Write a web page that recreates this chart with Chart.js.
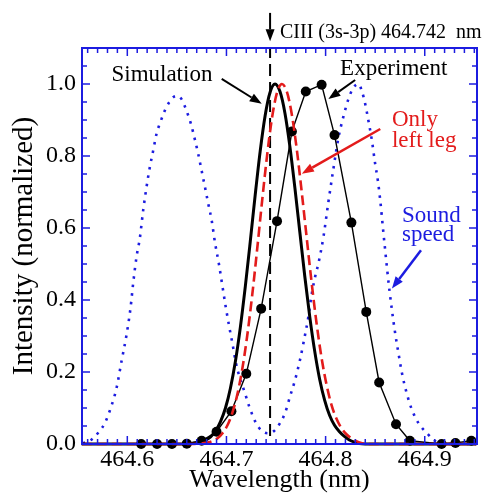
<!DOCTYPE html>
<html>
<head>
<meta charset="utf-8">
<title>CIII 464.742 nm line profile</title>
<script src="https://cdn.jsdelivr.net/npm/chart.js@4.4.1/dist/chart.umd.min.js"></script>
<style>
  html, body { margin: 0; padding: 0; background: #fff; }
  #box { width: 489px; height: 496px; }
</style>
</head>
<body>
<div id="box"><canvas id="profile" width="489" height="496"></canvas></div>
<script>
// ==========================================================
//  CIII (3s-3p) line profile
// ==========================================================

const xTicks = [464.6, 464.7, 464.8, 464.9];
const yTicks = [0.0, 0.2, 0.4, 0.6, 0.8, 1.0];

// Experiment (markers)
const expWl = [464.614, 464.630, 464.645, 464.660, 464.675, 464.690, 464.705, 464.720,
               464.735, 464.751, 464.766, 464.780, 464.796, 464.809, 464.826, 464.841,
               464.854, 464.871, 464.885, 464.917, 464.931, 464.947];
const expI  = [0.000, 0.000, 0.000, 0.001, 0.009, 0.034, 0.091, 0.195,
               0.376, 0.619, 0.868, 0.979, 0.998, 0.858, 0.615, 0.367,
               0.171, 0.055, 0.009, 0.000, 0.003, 0.009];

// Simulation (thick black)
const simWl = [464.554, 464.660, 464.669, 464.674, 464.679, 464.684, 464.689, 464.694,
               464.699, 464.704, 464.709, 464.714, 464.719, 464.724, 464.729, 464.734,
               464.739, 464.744, 464.749, 464.754, 464.759, 464.764, 464.769, 464.774,
               464.779, 464.784, 464.789, 464.794, 464.799, 464.804, 464.809, 464.814,
               464.819, 464.824, 464.829, 464.834, 464.840, 464.952];
const simI  = [0.000, 0.000, 0.003, 0.006, 0.011, 0.020, 0.036, 0.062,
               0.100, 0.155, 0.229, 0.324, 0.437, 0.562, 0.692, 0.813,
               0.912, 0.977, 1.000, 0.979, 0.919, 0.826, 0.712, 0.589,
               0.466, 0.354, 0.258, 0.180, 0.122, 0.080, 0.052, 0.034,
               0.021, 0.011, 0.005, 0.001, 0.000, 0.000];

// Only left leg (red dashed)
const legWl = [464.554, 464.665, 464.676, 464.681, 464.686, 464.691, 464.696, 464.701,
               464.706, 464.711, 464.716, 464.721, 464.726, 464.731, 464.736, 464.741,
               464.746, 464.751, 464.756, 464.761, 464.766, 464.771, 464.776, 464.781,
               464.786, 464.791, 464.796, 464.801, 464.806, 464.811, 464.816, 464.821,
               464.826, 464.831, 464.836, 464.842, 464.952];
const legI  = [0.000, 0.000, 0.002, 0.004, 0.008, 0.016, 0.030, 0.052,
               0.087, 0.138, 0.209, 0.302, 0.414, 0.542, 0.676, 0.802,
               0.907, 0.976, 1.000, 0.978, 0.914, 0.817, 0.698, 0.571,
               0.446, 0.333, 0.238, 0.164, 0.108, 0.070, 0.044, 0.027,
               0.016, 0.008, 0.003, 0.000, 0.000];

// Sound speed (blue dotted)
const soundWl = [464.555, 464.5638, 464.5712, 464.5773, 464.5840, 464.5891, 464.5941, 464.5992,
                 464.6032, 464.6059, 464.6093, 464.6126, 464.6160, 464.6194, 464.6227, 464.6261,
                 464.6295, 464.6328, 464.6362, 464.6396, 464.6463, 464.6500, 464.6547, 464.6598,
                 464.6641, 464.6682, 464.6715, 464.6749, 464.6783, 464.6816, 464.6851, 464.6884,
                 464.6924, 464.6955, 464.6995, 464.7028, 464.7063, 464.7096, 464.7136, 464.7187,
                 464.7230, 464.7298, 464.7359, 464.7419, 464.7480, 464.7540, 464.7591, 464.7641,
                 464.7692, 464.7742, 464.7776, 464.7826, 464.7861, 464.7894, 464.7927, 464.7978,
                 464.8028, 464.8079, 464.8129, 464.8180, 464.8230, 464.8281, 464.8333, 464.8366,
                 464.8399, 464.8432, 464.8467, 464.8500, 464.8527, 464.8551, 464.8568, 464.8584,
                 464.8601, 464.8618, 464.8644, 464.8669, 464.8702, 464.8735, 464.8770, 464.8813,
                 464.8871, 464.8937, 464.9022, 464.9089, 464.9157, 464.952];
const soundI  = [0.002, 0.012, 0.033, 0.058, 0.106, 0.155, 0.229, 0.303,
                 0.377, 0.446, 0.520, 0.571, 0.649, 0.714, 0.769, 0.815,
                 0.862, 0.890, 0.915, 0.937, 0.963, 0.967, 0.958, 0.925,
                 0.890, 0.845, 0.806, 0.760, 0.714, 0.668, 0.621, 0.560,
                 0.500, 0.446, 0.377, 0.326, 0.275, 0.224, 0.183, 0.141,
                 0.104, 0.058, 0.036, 0.030, 0.036, 0.058, 0.086, 0.132,
                 0.178, 0.234, 0.280, 0.353, 0.418, 0.464, 0.501, 0.575,
                 0.672, 0.765, 0.850, 0.910, 0.958, 0.990, 1.000, 0.980,
                 0.945, 0.898, 0.843, 0.778, 0.732, 0.677, 0.630, 0.584,
                 0.538, 0.492, 0.427, 0.372, 0.307, 0.252, 0.197, 0.146,
                 0.095, 0.058, 0.030, 0.012, 0.000, 0.000];

const lineWl = 464.744;          // CIII line marker position

// Axis ranges
const X_MIN = 464.5543, X_MAX = 464.9527;
const Y_MIN = 0, Y_MAX = 1.1;

const BLUE = '#1c1ce0';
const RED = '#e31b1b';
const SERIF = '"Liberation Serif", "Times New Roman", serif';

// Annotation labels and arrows, in data units
const labels = [
  { text: 'Simulation', x: 464.584, y: 1.009, color: '#000', size: 23 },
  { text: 'Experiment', x: 464.8146, y: 1.026, color: '#000', size: 23 },
  { text: 'Only', x: 464.8669, y: 0.882, color: RED, size: 23 },
  { text: 'left leg', x: 464.8669, y: 0.824, color: RED, size: 23 },
  { text: 'Sound', x: 464.877, y: 0.616, color: BLUE, size: 23 },
  { text: 'speed', x: 464.877, y: 0.563, color: BLUE, size: 23 },
  { text: 'CIII (3s-3p) 464.742  nm', x: 464.754, y: 1.128, color: '#000', size: 20 }
];
const arrows = [
  { from: [464.6952, 1.014], to: [464.7356, 0.945], color: '#000', width: 2 },
  { from: [464.8298, 1.011], to: [464.8028, 0.958], color: '#000', width: 2 },
  { from: [464.8551, 0.875], to: [464.7760, 0.751], color: RED, width: 2.5 },
  { from: [464.8962, 0.538], to: [464.8669, 0.432], color: BLUE, width: 2.5 },
  { from: [lineWl, 1.1975], to: [lineWl, 1.1186], color: '#000', width: 2 }
];

const pts = (xs, ys) => xs.map((x, i) => ({ x, y: ys[i] }));

function drawArrow(ctx, x0, y0, x1, y1, color, width) {
  const ang = Math.atan2(y1 - y0, x1 - x0);
  const head = 12, half = 4.5;
  const bx = x1 - head * Math.cos(ang), by = y1 - head * Math.sin(ang);
  ctx.strokeStyle = color; ctx.fillStyle = color; ctx.lineWidth = width;
  ctx.beginPath(); ctx.moveTo(x0, y0); ctx.lineTo(bx, by); ctx.stroke();
  ctx.beginPath();
  ctx.moveTo(x1, y1);
  ctx.lineTo(bx + half * Math.sin(ang), by - half * Math.cos(ang));
  ctx.lineTo(bx - half * Math.sin(ang), by + half * Math.cos(ang));
  ctx.closePath(); ctx.fill();
}

// ---- Blue frame with inward ticks on all four sides ----
const frame = {
  id: 'frame',
  afterDatasetsDraw(chart) {
    const { ctx, chartArea: a, scales: { x, y } } = chart;
    ctx.save();
    ctx.strokeStyle = BLUE;
    ctx.lineWidth = 1.5;
    ctx.beginPath();
    for (let k = Math.ceil(x.min * 100); k <= Math.floor(x.max * 100); k++) {
      const px = x.getPixelForValue(k / 100);
      const len = k % 10 === 0 ? 8 : 5;
      ctx.moveTo(px, a.bottom); ctx.lineTo(px, a.bottom - len);
      ctx.moveTo(px, a.top); ctx.lineTo(px, a.top + len);
    }
    for (let k = 0; k * 0.05 <= Y_MAX + 1e-9; k++) {
      const py = y.getPixelForValue(k * 0.05);
      const len = k % 4 === 0 ? 8 : 5;
      ctx.moveTo(a.left, py); ctx.lineTo(a.left + len, py);
      ctx.moveTo(a.right, py); ctx.lineTo(a.right - len, py);
    }
    ctx.stroke();
    ctx.lineWidth = 2;
    ctx.strokeRect(a.left, a.top, a.right - a.left, a.bottom - a.top);
    ctx.restore();
  }
};

// ---- Text labels and arrows ----
const notes = {
  id: 'notes',
  afterDraw(chart) {
    const { ctx, scales: { x, y } } = chart;
    ctx.save();
    arrows.forEach(a => drawArrow(ctx,
      x.getPixelForValue(a.from[0]), y.getPixelForValue(a.from[1]),
      x.getPixelForValue(a.to[0]), y.getPixelForValue(a.to[1]), a.color, a.width));
    ctx.textAlign = 'left';
    ctx.textBaseline = 'alphabetic';
    labels.forEach(l => {
      ctx.font = `${l.size}px ${SERIF}`;
      ctx.fillStyle = l.color;
      ctx.fillText(l.text, x.getPixelForValue(l.x), y.getPixelForValue(l.y));
    });
    ctx.restore();
  }
};

Chart.defaults.font.family = SERIF;
Chart.defaults.color = '#000';

new Chart(document.getElementById('profile'), {
  type: 'line',
  data: {
    datasets: [
      {
        label: 'Only left leg', data: pts(legWl, legI),
        borderColor: RED, borderWidth: 2.6, borderDash: [10, 5],
        pointRadius: 0, cubicInterpolationMode: 'monotone', clip: false
      },
      {
        label: 'Simulation', data: pts(simWl, simI),
        borderColor: '#000', borderWidth: 3,
        pointRadius: 0, cubicInterpolationMode: 'monotone', clip: false
      },
      {
        label: 'Experiment', data: pts(expWl, expI),
        borderColor: '#000', borderWidth: 1.4, tension: 0,
        pointRadius: 5, pointBackgroundColor: '#000', pointBorderWidth: 0, clip: false
      },
      {
        label: 'CIII 464.742 nm', data: [{ x: lineWl, y: 0.022 }, { x: lineWl, y: Y_MAX }],
        borderColor: '#000', borderWidth: 2, borderDash: [12, 6], pointRadius: 0
      },
      {
        label: 'Sound speed', data: pts(soundWl, soundI),
        borderColor: BLUE, borderWidth: 2.6, borderDash: [2.5, 6], borderCapStyle: 'butt',
        pointRadius: 0, cubicInterpolationMode: 'monotone', clip: false
      }
    ]
  },
  options: {
    responsive: false,
    animation: false,
    layout: { padding: { left: 0, right: 12, top: 48, bottom: 0 } },
    plugins: { legend: { display: false }, tooltip: { enabled: false } },
    scales: {
      x: {
        type: 'linear', min: X_MIN, max: X_MAX,
        afterBuildTicks: s => { s.ticks = xTicks.map(v => ({ value: v })); },
        afterFit: s => { s.height = 52; },
        grid: { display: false, drawTicks: false },
        border: { display: false },
        ticks: { callback: v => v.toFixed(1), font: { size: 24 }, color: '#000', padding: 1, maxRotation: 0, autoSkip: false },
        title: { display: true, text: 'Wavelength (nm)', font: { size: 26 }, color: '#000', padding: { top: 0, bottom: 0 } }
      },
      y: {
        type: 'linear', min: Y_MIN, max: Y_MAX,
        afterBuildTicks: s => { s.ticks = yTicks.map(v => ({ value: v })); },
        afterFit: s => { s.width = 82; },
        grid: { display: false, drawTicks: false },
        border: { display: false },
        ticks: { callback: v => v.toFixed(1), font: { size: 24 }, color: '#000', padding: 6, autoSkip: false },
        title: { display: true, text: 'Intensity (normalized)', font: { size: 29 }, color: '#000', padding: { top: 7, bottom: 0 } }
      }
    }
  },
  plugins: [frame, notes]
});
</script>
</body>
</html>
